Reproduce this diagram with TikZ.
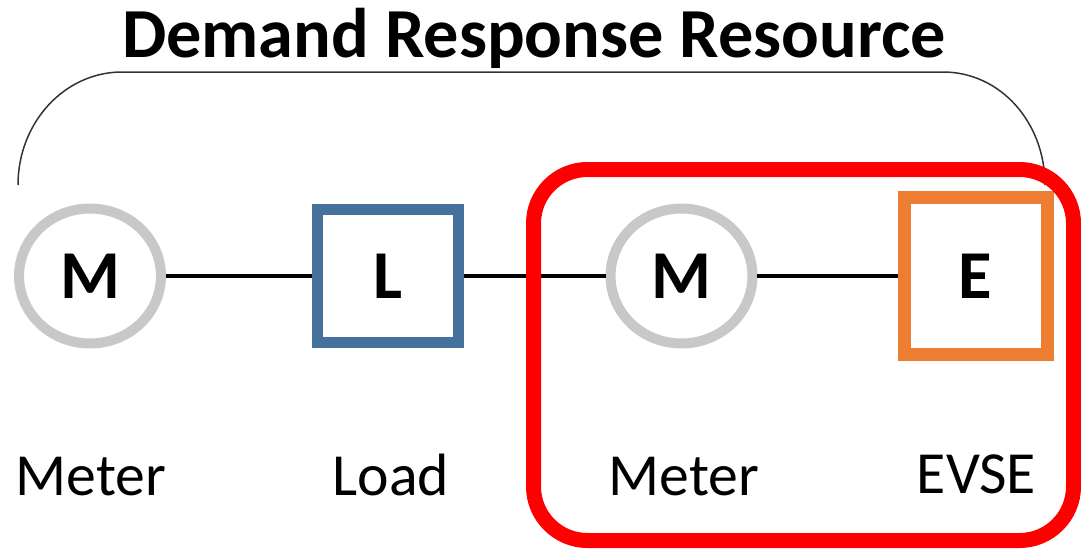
\documentclass[tikz,border=0pt]{standalone}
\usepackage{fontspec}
\setmainfont{Carlito}
\usetikzlibrary{shapes.geometric}

\definecolor{metergray}{RGB}{200,200,200}
\definecolor{loadblue}{RGB}{68,114,157}
\definecolor{evseorange}{RGB}{237,125,49}

\tikzset{
  meter/.style={ellipse, draw=metergray, line width=0.2cm, fill=white,
    minimum width=2.84cm, minimum height=2.7cm, inner sep=0pt,
    font=\fontsize{39}{39}\selectfont\bfseries},
  loadbox/.style={rectangle, draw=loadblue, line width=0.22cm, fill=white,
    minimum width=2.82cm, minimum height=2.68cm, inner sep=0pt,
    font=\fontsize{39}{39}\selectfont\bfseries},
  evsebox/.style={rectangle, draw=evseorange, line width=0.26cm, fill=white,
    minimum width=2.86cm, minimum height=3.14cm, inner sep=0pt,
    font=\fontsize{39}{39}\selectfont\bfseries},
  tag/.style={anchor=base, inner sep=0pt, font=\fontsize{34}{34}\selectfont},
  wire/.style={black, line width=0.07cm}
}

\begin{document}
\begin{tikzpicture}[x=0.02cm, y=-0.02cm]
  \useasboundingbox (0,0) rectangle (1081,548);

  % heading and the bracket over the whole resource
  \node[anchor=base, inner sep=0pt, font=\fontsize{40}{40}\selectfont\bfseries]
    (title) at (534,57) {Demand Response Resource};
  \draw[black!80, line width=0.03cm] (18,185) .. controls (18,122) and (65,72) .. (122,72)
    -- (943,72) .. controls (1000,72) and (1045,122) .. (1045,185);

  % chain of devices
  \node[meter] (m1) at (90,276) {M};
  \node[loadbox] (load) at (388,276) {L};
  \node[meter] (m2) at (681.5,276) {M};
  \node[evsebox] (evse) at (975.5,276) {E};

  \foreach \a/\b in {m1/load, load/m2, m2/evse}
    \draw[wire] (\a) -- (\b);

  % labels under the devices
  \node[tag] (meterA) at (91,495) {Meter};
  \node[tag] (loadlab) at (391,495) {Load};
  \node[tag] (meterB) at (684,495) {Meter};
  \node[tag] (evselab) at (976.5,493) {EVSE};

  % the EV part of the resource
  \draw[red, line width=0.3cm, rounded corners=1.08cm] (533.5,169.5) rectangle (1073.5,540.5);
\end{tikzpicture}
\end{document}
